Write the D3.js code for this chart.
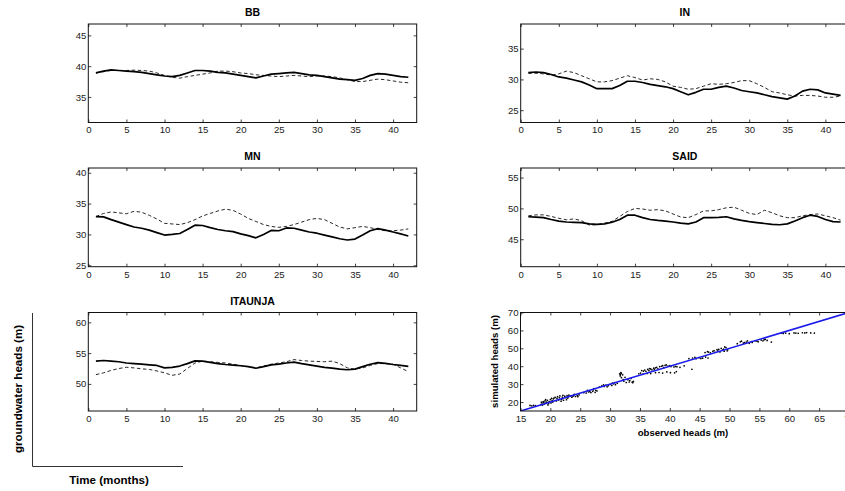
<!DOCTYPE html>
<html>
<head>
<meta charset="utf-8">
<script src="https://cdn.jsdelivr.net/npm/d3@7"></script>
<style>
  html, body { margin: 0; padding: 0; background: #fff; }
  svg { display: block; }
  text { font-family: "Liberation Sans", Arial, Helvetica, sans-serif; }
</style>
</head>
<body>
<svg id="chart" width="845" height="491"></svg>
<script>
// Monthly groundwater heads (m): solid = simulated, dashed = observed
const months = d3.range(1, 43);

const bbSolid  = [38.9,39.2,39.4,39.3,39.2,39.1,39.0,38.8,38.6,38.4,38.3,38.5,38.9,39.3,39.3,39.2,39.0,38.9,38.7,38.5,38.3,38.1,38.4,38.7,38.8,38.9,39.0,38.8,38.6,38.5,38.3,38.1,37.9,37.8,37.7,38.0,38.5,38.8,38.7,38.5,38.3,38.2];
const bbDashed = [38.9,39.1,39.3,39.3,39.3,39.35,39.3,39.2,38.9,38.5,38.2,38.05,38.3,38.5,38.7,38.9,39.2,39.2,39.1,38.9,38.8,38.6,38.5,38.4,38.3,38.4,38.5,38.4,38.3,38.4,38.4,38.3,38.1,37.8,37.5,37.5,37.7,37.9,37.8,37.6,37.4,37.3];

const inSolid  = [31.1,31.2,31.1,30.8,30.4,30.2,29.9,29.6,29.1,28.5,28.5,28.5,29.0,29.7,29.7,29.5,29.2,29.0,28.8,28.5,28.0,27.5,27.9,28.4,28.4,28.7,28.9,28.6,28.2,28.0,27.8,27.5,27.2,27.0,26.8,27.3,28.1,28.4,28.3,27.8,27.6,27.4];
const inDashed = [31.0,31.0,30.9,30.7,30.9,31.35,31.1,30.6,30.1,29.6,29.6,29.8,30.2,30.6,30.3,29.9,30.1,30.0,29.6,28.9,28.7,28.4,28.5,28.9,29.3,29.2,29.3,29.5,29.8,29.8,29.3,28.7,28.0,27.8,27.5,27.3,27.4,27.4,27.3,27.1,27.1,27.3];

const mnSolid  = [32.9,32.85,32.4,32.0,31.6,31.2,31.0,30.7,30.3,29.9,30.0,30.15,30.8,31.5,31.45,31.1,30.8,30.6,30.45,30.1,29.8,29.45,30.0,30.65,30.6,31.05,31.0,30.7,30.4,30.2,29.9,29.6,29.3,29.1,29.25,29.9,30.6,30.95,30.7,30.4,30.1,29.75];
const mnDashed = [32.9,33.4,33.65,33.5,33.35,33.75,33.6,33.1,32.5,31.8,31.7,31.6,31.9,32.4,33.0,33.4,33.8,34.1,33.9,33.3,32.6,32.1,31.6,31.3,31.15,31.3,31.6,32.0,32.4,32.6,32.4,31.8,31.2,30.9,31.1,31.3,31.1,30.8,30.6,30.6,30.7,30.9];

const saidSolid  = [48.65,48.6,48.5,48.2,47.95,47.8,47.75,47.7,47.5,47.4,47.5,47.75,48.2,48.9,48.9,48.5,48.2,48.05,47.95,47.8,47.6,47.5,47.8,48.5,48.5,48.55,48.65,48.3,48.05,47.85,47.7,47.55,47.4,47.35,47.5,47.95,48.5,48.9,48.7,48.2,47.85,47.8];
const saidDashed = [48.8,48.95,48.95,48.7,48.4,48.15,48.3,48.0,47.3,47.35,47.6,47.9,48.7,49.5,50.0,49.9,49.7,49.8,49.6,49.1,48.6,48.5,49.0,49.6,49.6,49.8,50.1,50.2,49.7,49.2,49.0,49.7,49.3,48.8,48.5,48.5,48.8,49.0,49.1,48.8,48.5,48.1];

const itaunjaSolid  = [53.7,53.8,53.7,53.6,53.4,53.3,53.2,53.1,53.0,52.6,52.7,52.9,53.3,53.75,53.7,53.5,53.3,53.15,53.05,52.95,52.8,52.55,52.8,53.1,53.2,53.4,53.55,53.3,53.1,52.9,52.7,52.55,52.4,52.3,52.4,52.8,53.2,53.45,53.35,53.15,53.0,52.85];
const itaunjaDashed = [51.5,51.8,52.2,52.5,52.7,52.6,52.45,52.35,52.1,51.8,51.4,51.6,52.5,53.4,53.7,53.6,53.5,53.4,53.2,53.0,52.8,52.6,52.9,53.2,53.4,53.6,53.95,53.8,53.7,53.65,53.6,53.7,53.3,52.6,52.4,52.6,53.0,53.3,53.3,53.2,52.6,52.0];

const monthTicks = [0,5,10,15,20,25,30,35,40];
const bbTicks = [35,40,45];
const inTicks = [25,30,35];
const mnTicks = [25,30,35,40];
const saidTicks = [45,50,55];
const itaunjaTicks = [50,55,60];

// Observed vs simulated heads for all wells (m)
const observedHeads = [16.6,16.9,17.2,17.5,
  18.4,18.6,18.8,19.0,19.1,19.3,19.5,19.6,19.8,20.0,20.1,20.3,20.5,18.9,19.4,20.2,
  18.5,19.2,19.7,20.4,18.7,20.6,
  20.8,21.0,21.2,21.4,21.6,21.8,22.0,22.2,22.4,22.6,22.8,23.0,23.3,23.6,23.9,24.2,24.5,24.8,21.9,22.7,
  21.1,21.5,22.1,23.1,23.8,24.6,22.9,24.0,
  25.6,26.0,26.4,26.8,27.1,27.3,27.5,27.8,27.2,26.6,26.2,27.6,
  28.2,28.6,29.0,29.3,29.7,30.0,30.3,30.6,30.9,31.2,29.5,30.4,28.9,30.8,
  31.6,31.7,31.8,31.9,32.1,32.3,32.5,32.7,33.0,33.2,33.5,33.8,33.9,32.2,31.7,31.9,33.3,33.7,
  34.8,35.3,35.8,36.3,36.8,37.3,37.8,38.3,38.8,39.2,39.7,40.2,40.7,41.2,41.7,42.4,36.0,37.0,38.0,39.0,
  35.6,36.6,37.6,38.6,39.4,40.0,41.0,36.5,37.4,35.1,
  35.5,36.2,36.8,37.6,38.2,38.8,39.5,40.1,40.8,41.1,43.7,
  43.2,43.8,44.4,44.9,45.5,46.0,46.4,44.2,45.2,
  45.9,46.3,46.8,47.2,47.6,48.0,48.4,48.8,49.1,49.4,49.7,48.6,47.9,49.2,
  46.5,47.4,48.2,49.0,49.6,
  51.3,51.8,52.3,52.8,53.3,53.8,54.3,54.8,55.3,55.8,56.3,57.0,52.0,53.0,
  52.5,53.6,54.6,55.6,56.0,
  58.7,59.4,60.0,60.8,61.5,62.2,62.9,63.6,64.2,59.0,61.1,62.6];
const simulatedHeads = [18.1,17.9,18.2,18.0,
  18.6,19.4,20.2,18.9,20.6,19.7,21.0,18.4,20.3,21.4,19.5,20.8,21.8,19.8,20.0,22.0,
  19.9,21.3,19.2,20.0,18.3,22.2,
  22.6,20.6,23.0,21.2,23.4,20.5,22.8,21.0,23.3,22.5,23.6,22.9,23.4,22.7,23.8,23.1,23.6,24.0,21.6,21.3,
  22.1,22.4,23.8,23.9,23.3,23.0,22.2,24.3,
  25.2,25.0,25.6,25.3,26.0,27.5,25.4,26.2,26.8,25.9,26.5,26.6,
  28.4,29.0,28.7,29.4,29.1,29.8,29.3,30.2,29.7,30.5,28.5,30.6,29.6,30.9,
  35.8,34.6,36.4,33.6,35.2,31.6,33.8,30.9,32.4,31.2,33.2,30.8,31.5,32.6,35.3,36.0,32.0,31.1,
  35.8,37.6,37.9,38.2,38.5,38.9,39.4,39.8,40.3,40.5,40.1,39.8,39.6,39.7,39.4,40.2,37.2,38.0,38.6,39.2,
  37.3,38.7,39.1,40.0,40.7,40.4,39.9,37.6,38.2,36.2,
  35.6,36.0,35.9,36.4,36.5,36.2,36.8,36.4,36.3,37.0,38.3,
  44.3,44.6,44.2,44.8,44.5,45.1,44.6,44.9,44.3,
  47.6,48.1,47.4,48.3,47.8,48.6,48.0,49.0,48.4,50.4,49.2,50.0,49.3,50.8,
  47.9,48.7,49.4,49.6,48.6,
  52.6,53.6,52.9,53.5,52.8,53.3,54.2,53.6,54.6,54.8,54.4,53.5,54.0,54.2,
  53.2,53.8,54.0,54.2,55.0,
  58.4,58.5,58.2,58.6,58.4,58.7,58.8,58.6,58.5,58.3,58.5,58.6];
const headTicksX = [15,20,25,30,35,40,45,50,55,60,65,70];
const headTicksY = [20,30,40,50,60,70];

const svg = d3.select("#chart");
svg.append("rect").attr("width", 845).attr("height", 491).attr("fill", "#fff");

const colLeft = [88.3, 416.7];
const colRight = [520.7, 849.0];
const rows = [[24, 122.5], [168, 266.7], [312.5, 411]];

const panels = [
  { name: "BB",      solid: bbSolid,      dashed: bbDashed,      yDomain: [30.85, 46.85], ticks: bbTicks,      xr: colLeft,  yr: rows[0] },
  { name: "IN",      solid: inSolid,      dashed: inDashed,      yDomain: [23.0, 39.0],   ticks: inTicks,      xr: colRight, yr: rows[0] },
  { name: "MN",      solid: mnSolid,      dashed: mnDashed,      yDomain: [24.77, 40.77], ticks: mnTicks,      xr: colLeft,  yr: rows[1] },
  { name: "SAID",    solid: saidSolid,    dashed: saidDashed,    yDomain: [40.55, 56.55], ticks: saidTicks,    xr: colRight, yr: rows[1] },
  { name: "ITAUNJA", solid: itaunjaSolid, dashed: itaunjaDashed, yDomain: [45.6, 61.6],   ticks: itaunjaTicks, xr: colLeft,  yr: rows[2] }
];

function styleAxis(g) {
  g.select(".domain").remove();
  g.selectAll(".tick line").attr("stroke", "#111").attr("stroke-width", 0.8);
  g.selectAll(".tick text").attr("fill", "#222").style("font-size", "9.6px");
}

function drawFrame(x, y, xTicks, yTicks) {
  const [x0, x1] = x.range();
  const [y1, y0] = y.range();
  const g = svg.append("g");
  // bottom + top
  g.append("g").attr("transform", `translate(0,${y1})`)
    .call(d3.axisBottom(x).tickValues(xTicks).tickSize(-3).tickPadding(4))
    .call(styleAxis);
  g.append("g").attr("transform", `translate(0,${y0})`)
    .call(d3.axisTop(x).tickValues(xTicks).tickSize(-3).tickFormat(""))
    .call(styleAxis);
  // left + right
  g.append("g").attr("transform", `translate(${x0},0)`)
    .call(d3.axisLeft(y).tickValues(yTicks).tickSize(-3).tickPadding(2))
    .call(styleAxis);
  g.append("g").attr("transform", `translate(${x1},0)`)
    .call(d3.axisRight(y).tickValues(yTicks).tickSize(-3).tickFormat(""))
    .call(styleAxis);
  g.append("rect")
    .attr("x", x0).attr("y", y0)
    .attr("width", x1 - x0).attr("height", y1 - y0)
    .attr("fill", "none").attr("stroke", "#111").attr("stroke-width", 1);
}

panels.forEach(p => {
  const x = d3.scaleLinear().domain([0, 43.1]).range(p.xr);
  const y = d3.scaleLinear().domain(p.yDomain).range([p.yr[1], p.yr[0]]);
  const line = d3.line().x((d, i) => x(months[i])).y(d => y(d));

  svg.append("path").datum(p.dashed)
    .attr("d", line).attr("fill", "none")
    .attr("stroke", "#111").attr("stroke-width", 0.9)
    .attr("stroke-dasharray", "3.5,2.5");
  svg.append("path").datum(p.solid)
    .attr("d", line).attr("fill", "none")
    .attr("stroke", "#000").attr("stroke-width", 1.7)
    .attr("stroke-linejoin", "round");

  drawFrame(x, y, monthTicks, p.ticks);

  svg.append("text")
    .attr("x", (p.xr[0] + p.xr[1]) / 2).attr("y", p.yr[0] - 8)
    .attr("text-anchor", "middle")
    .style("font-size", "10.5px").style("font-weight", "bold")
    .text(p.name);
});

// Observed vs simulated scatter with 1:1 line
{
  const x = d3.scaleLinear().domain([15, 70]).range([520.5, 849.0]);
  const y = d3.scaleLinear().domain([15, 70]).range([411, 312.5]);
  const clipId = "scatter-clip";
  svg.append("clipPath").attr("id", clipId)
    .append("rect").attr("x", 520.5).attr("y", 312.5).attr("width", 328.5).attr("height", 98.5);

  svg.append("g").attr("clip-path", `url(#${clipId})`)
    .selectAll("circle").data(observedHeads).join("circle")
    .attr("cx", d => x(d)).attr("cy", (d, i) => y(simulatedHeads[i]))
    .attr("r", 0.85).attr("fill", "#000");

  svg.append("path").datum([15, 70])
    .attr("clip-path", `url(#${clipId})`)
    .attr("d", d3.line().x(d => x(d)).y(d => y(d)))
    .attr("stroke", "#1a1aeb").attr("stroke-width", 1.6).attr("fill", "none");

  drawFrame(x, y, headTicksX, headTicksY);

  svg.append("text")
    .attr("x", 683).attr("y", 435.5).attr("text-anchor", "middle")
    .style("font-size", "9.6px").style("font-weight", "bold")
    .text("observed heads (m)");
  svg.append("text")
    .attr("transform", "translate(498,361.5) rotate(-90)")
    .attr("text-anchor", "middle")
    .style("font-size", "9.6px").style("font-weight", "bold")
    .text("simulated heads (m)");
}

// Shared axis labels with L-shaped guide
svg.append("path")
  .attr("d", "M32.5,313 V466.5 H183")
  .attr("fill", "none").attr("stroke", "#333").attr("stroke-width", 1);
svg.append("text")
  .attr("transform", "translate(21.5,389) rotate(-90)")
  .attr("text-anchor", "middle")
  .style("font-size", "11.6px").style("font-weight", "bold")
  .text("groundwater heads (m)");
svg.append("text")
  .attr("x", 109).attr("y", 484)
  .attr("text-anchor", "middle")
  .style("font-size", "11.6px").style("font-weight", "bold")
  .text("Time (months)");
</script>
</body>
</html>
